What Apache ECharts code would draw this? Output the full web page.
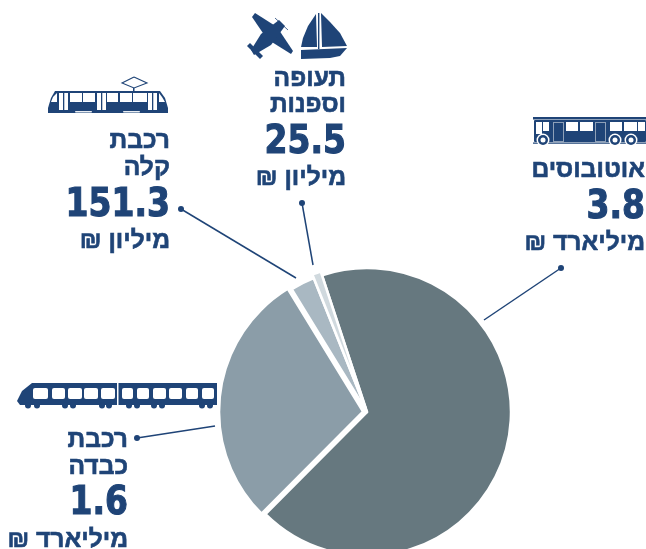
<!DOCTYPE html>
<html dir="rtl"><head><meta charset="utf-8">
<style>html,body{margin:0;padding:0;background:#fff;overflow:hidden}#c{width:646px;height:549px}</style>
<script src="https://cdn.jsdelivr.net/npm/echarts@6/dist/echarts.min.js"></script></head>
<body><div id="c"></div>
<script>
const categories = ['אוטובוסים','רכבת כבדה','רכבת קלה','תעופה וספנות'];
const seriesValues = [3750,1600,151.3,25.5];
const sliceColors = ['#66787f','#8b9da8','#a9b8c2','#d0d9de'];
const amountLabels = ['3.8','1.6','151.3','25.5'];
const unitLabels = ['מיליארד ₪','מיליארד ₪','מיליון ₪','מיליון ₪'];
const nameLines = [['אוטובוסים'],['רכבת','כבדה'],['רכבת','קלה'],['תעופה','וספנות']];
const NAVY = '#1f4477';
const els = [];
function txt(t,x,y){els.push({type:'text',x,y,style:{text:t,fill:NAVY,stroke:NAVY,lineWidth:0.6,fontFamily:'Liberation Sans',fontWeight:'bold',fontSize:24.6,align:'right',verticalAlign:'middle'}});}
function num(t,x,y){els.push({type:'text',x,y,scaleY:1.2,style:{text:t,fill:NAVY,stroke:NAVY,lineWidth:1,fontFamily:'DejaVu Sans',fontWeight:'bold',fontSize:33,align:'right',verticalAlign:'middle'}});}
function leader(x1,y1,x2,y2){
  els.push({type:'line',shape:{x1,y1,x2,y2},style:{stroke:NAVY,lineWidth:1.5}});
  els.push({type:'circle',shape:{cx:x1,cy:y1,r:3},style:{fill:NAVY}});
}
function poly(points,fill){els.push({type:'polygon',shape:{points},style:{fill:fill||NAVY}});}
function rect(x,y,width,height,fill,r){els.push({type:'rect',shape:{x,y,width,height,r:r||0},style:{fill:fill||NAVY}});}
function circ(cx,cy,r,fill){els.push({type:'circle',shape:{cx,cy,r},style:{fill:fill||NAVY}});}

txt(nameLines[3][0],346,79); txt(nameLines[3][1],346,105); num(amountLabels[3],346,143); txt(unitLabels[3],346,178);
txt(nameLines[2][0],170,141); txt(nameLines[2][1],170,168); num(amountLabels[2],170,206); txt(unitLabels[2],170,241);
txt(nameLines[0][0],645,170); num(amountLabels[0],645,208); txt(unitLabels[0],645,243);
txt(nameLines[1][0],128,440); txt(nameLines[1][1],128,467); num(amountLabels[1],128,504); txt(unitLabels[1],128,540);
leader(561,268,484,320); leader(181,209,296,278); leader(302,203,313,265); leader(137,438,215,426);

// sailboat
poly([[316,14],[317,47],[301,47],[303,38],[308,26]]);
poly([[321,13],[330,22],[340,33],[347,46],[322,47]]);
poly([[301,50],[347,48],[340,56],[330,58],[301,59]]);
rect(318,13,1.4,36);
// airplane
poly([[252,17],[255,13],[277,27],[293,51],[291,54],[267,39]]);
poly([[279,20],[285,26],[271,45],[254,55],[251,50],[261,34]]);
poly([[247,46],[250,43],[263,56],[260,59]]);
els.push({type:'line',shape:{x1:275,y1:18,x2:288,y2:30},style:{stroke:NAVY,lineWidth:0.8}});
// tram
els.push({type:'polyline',shape:{points:[[134,77],[147,83],[134,88],[122,83],[134,77]]},style:{stroke:NAVY,lineWidth:1.1}});
rect(133,88,1.5,4);
poly([[55,91],[160,91],[165,98],[168,108],[168,113],[48,113],[48,108],[51,98]]);
poly([[57,93],[57,102],[51,102],[53,97]],'#fff');
poly([[159,93],[162,97],[165,102],[159,102]],'#fff');
[[70,12],[83,12],[107,11],[120,12],[133,14]].forEach(w=>rect(w[0],93,w[1],9,'#fff'));
[59,97,148].forEach(x=>{rect(x,93,9,17,'#fff');rect(x+4,93,1.3,17);});
rect(75,111,17,1.5,'#e9edf2',1);rect(123,111,17,1.5,'#e9edf2',1);
// bus
rect(533,117,113,2.5);
rect(534,120,112,22,NAVY,1);
rect(536,122,6,12,'#fff');rect(543,122,6,9,'#fff');
[[566,12],[580,13],[610,12],[624,13],[638,7]].forEach(w=>rect(w[0],122,w[1],9,'#fff'));
[553,595].forEach(x=>{rect(x,122,11,20,'#8ea0b8');rect(x+1,123,9,18);});
rect(533,142.5,113,1.2);
[543,615,631].forEach(x=>{circ(x,140,6.5,'#fff');circ(x,140,5);circ(x,140,2.5,'#fff');});
// train
poly([[32,383],[117,383],[117,405],[20,405],[17,401],[22,391]]);
rect(118.5,383,98.5,22);
[[33,15],[52,13],[68,14],[84,14],[101,14],[122,11],[137,12],[153,13],[169,13],[186,12],[202,12]].forEach(w=>rect(w[0],388,w[1],11,'#fff',2));
[28,37,65,73,102,109,129,137,154,162,202,210].forEach(x=>circ(x,405.5,3));

const data = categories.map((name,i)=>({name,value:seriesValues[i],selected:i===1||i===3,itemStyle:{color:sliceColors[i]}}));
echarts.init(document.getElementById('c'),null,{renderer:'canvas'}).setOption({
  animation:false,
  backgroundColor:'#fff',
  series:[{
    type:'pie',
    center:[367,412],
    radius:[0,144],
    startAngle:108.2,
    minAngle:3.5,
    clockwise:true,
    silent:true,
    selectedMode:'multiple',
    selectedOffset:4,
    label:{show:false},labelLine:{show:false},
    itemStyle:{borderColor:'#fff',borderWidth:2.5},
    data
  }],
  graphic:els
});
</script></body></html>
